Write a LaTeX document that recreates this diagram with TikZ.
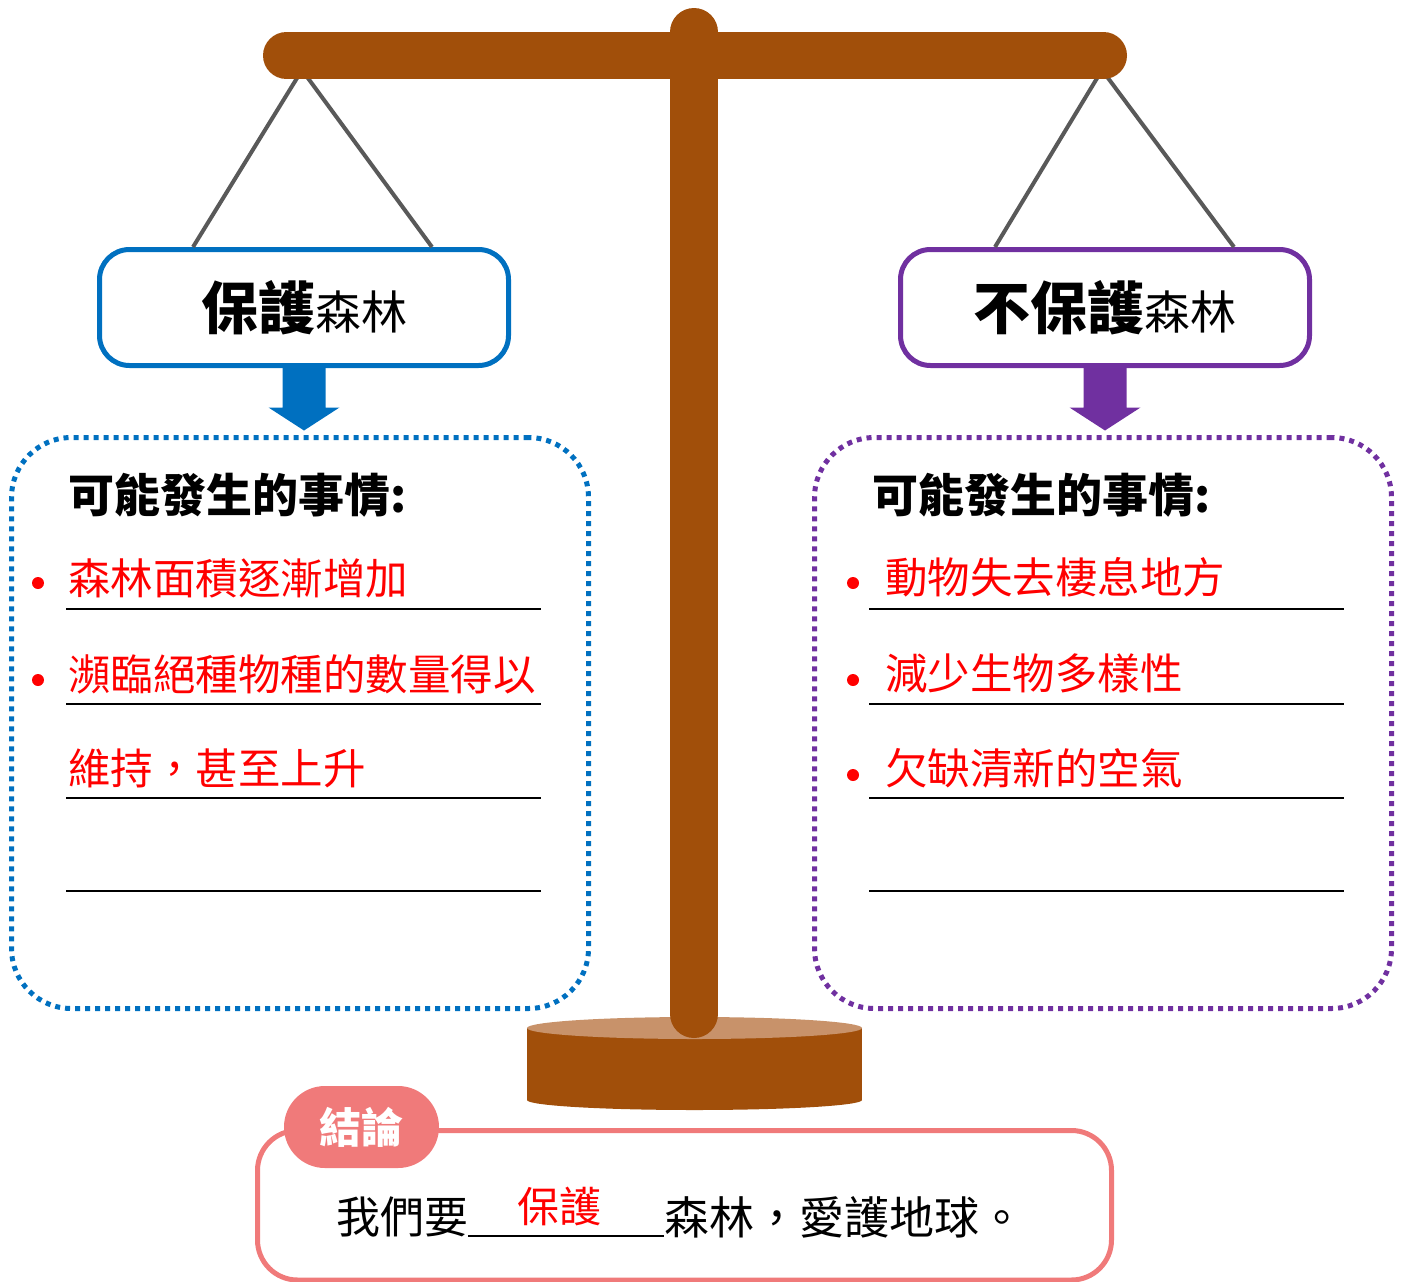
\documentclass[tikz,border=0pt]{standalone}
\usepackage{fontspec}
\usepackage{xcolor}
\usepackage{tikz}
\usetikzlibrary{positioning,calc}
\setmainfont{Noto Sans CJK TC}
\definecolor{wood}{HTML}{A14F0A}
\definecolor{woodtop}{HTML}{C8926A}
\definecolor{keepblue}{HTML}{0070C0}
\definecolor{losepurple}{HTML}{7030A0}
\definecolor{endpink}{HTML}{F07A7A}
\definecolor{rope}{HTML}{595959}
\newcommand{\fsz}[1]{\fontsize{#1}{#1}\selectfont}
\tikzset{
  titlebox/.style={draw=#1, line width=5pt, rounded corners=30pt, fill=white,
    minimum width=409pt, minimum height=116pt, inner sep=0pt},
  ideabox/.style={draw=#1, line width=5pt, dash pattern=on 5pt off 5pt,
    rounded corners=60pt, minimum width=577pt, minimum height=571pt},
  ask/.style={anchor=west, font=\fsz{46}\bfseries, inner sep=0pt},
  item/.style={anchor=west, font=\fsz{42.5}, text=red, inner sep=0pt},
  rope/.style={draw=rope, line width=4pt},
  answerline/.style={line width=1.5pt}
}

\begin{document}
\begin{tikzpicture}[x=1pt,y=-1pt]
    \useasboundingbox (0,0) rectangle (1403,1282);
    \coordinate (hookL) at (302,70);
    \coordinate (hookR) at (1102,70);

    % balance base and post
    \fill[wood] (527,1028) rectangle (862,1100);
    \fill[wood] (694.5,1100) ellipse (167.5 and 10);
    \fill[woodtop] (694.5,1028) ellipse (167.5 and 11);
    \draw[wood, line width=48pt, line cap=round] (694,32) -- (694,1014); % post

    % title boxes, ropes, beam
    \node[titlebox=keepblue] (titleL) at (304,307.5) {{\fsz{57}\bfseries 保護}{\fsz{46}森林}};
    \node[titlebox=losepurple] (titleR) at (1105,307.5) {{\fsz{57}\bfseries 不保護}{\fsz{46}森林}};
    \draw[rope] (hookL) -- ($(titleL.north)+(-111,0)$);
    \draw[rope] (hookL) -- ($(titleL.north)+(128,0)$);
    \draw[rope] (hookR) -- ($(titleR.north)+(-110,0)$);
    \draw[rope] (hookR) -- ($(titleR.north)+(129,0)$);
    \draw[wood, line width=47pt, line cap=round] (286.5,55.5) -- (1103.5,55.5); % beam

    % what may happen
    \node[ideabox=keepblue] (ideaL) at (300,723) {};
    \node[ideabox=losepurple] (ideaR) at (1103,723) {};
    \fill[keepblue] ($(titleL.south)+(-21.5,0)$) -- ++(0,39.5) -- ++(-14,0)
        -- ($(titleL.south)+(0,62.5)$) -- ($(titleL.south)+(35.5,39.5)$)
        -- ++(-14,0) -- ($(titleL.south)+(21.5,0)$) -- cycle;
    \fill[losepurple] ($(titleR.south)+(-21.5,0)$) -- ++(0,39.5) -- ++(-14,0)
        -- ($(titleR.south)+(0,62.5)$) -- ($(titleR.south)+(35.5,39.5)$)
        -- ++(-14,0) -- ($(titleR.south)+(21.5,0)$) -- cycle;

    \node[ask] (askL) at (68,495) {可能發生的事情:};
    \node[ask] (askR) at (872,495) {可能發生的事情:};
    \foreach \y in {609,704,798,891} {
        \draw[answerline] (66,\y) -- (541,\y);
        \draw[answerline] (869,\y) -- (1344,\y);
    }
    \foreach \y in {583,680} \fill[red] (38,\y) circle (6);
    \foreach \y in {583,680,775} \fill[red] (853,\y) circle (6);
    \node[item] (goodA) at (68,578) {森林面積逐漸增加};
    \node[item] (goodB) at (68,674) {瀕臨絕種物種的數量得以};
    \node[item] (goodC) at (68,768) {維持，甚至上升};
    \node[item] (badA) at (885,577) {動物失去棲息地方};
    \node[item] (badB) at (885,673) {減少生物多樣性};
    \node[item] (badC) at (885,768) {欠缺清新的空氣};

    % conclusion
    \draw[endpink, line width=5pt, rounded corners=40pt] (257.5,1130.5) rectangle (1111.5,1280);
    \node[fill=endpink, rounded corners=41pt, minimum width=155pt, minimum height=82pt,
        text=white, font=\fsz{42}\bfseries, inner sep=0pt] (tab) at (361.5,1127) {結論};
    \node[anchor=west, font=\fsz{44}, inner sep=0pt] (weMust) at (336,1217) {我們要};
    \node[anchor=west, font=\fsz{45}, inner sep=0pt] (rest) at (664,1217) {森林，愛護地球。};
    \draw[answerline] (weMust.east |- 0,1236) -- (rest.west |- 0,1236);
    \node[text=red, font=\fsz{42}, inner sep=0pt] (answer) at (559,1206) {保護};
\end{tikzpicture}
\end{document}
